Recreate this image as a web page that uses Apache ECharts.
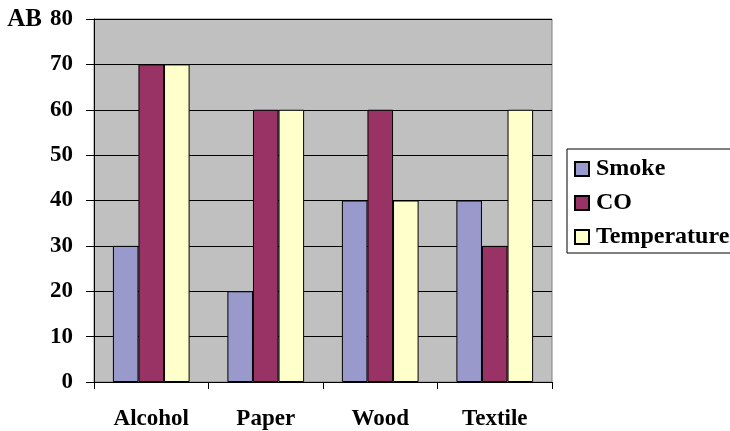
<!DOCTYPE html>
<html>
<head>
<meta charset="utf-8">
<script src="https://cdn.jsdelivr.net/npm/echarts@6/dist/echarts.min.js"></script>
<style>
  html, body { margin: 0; padding: 0; background: #fff; }
  #chart { width: 730px; height: 431px; }
</style>
</head>
<body>
<div id="chart"></div>
<script>
// Fire-signature readings per material
const categories = ['Alcohol', 'Paper', 'Wood', 'Textile'];
const smoke = [30, 20, 40, 40];
const co = [70, 60, 60, 30];
const temperature = [70, 60, 40, 60];
const yTicks = { min: 0, max: 80, interval: 10 };

const serif = '"Liberation Serif", "Times New Roman", serif';
const labelFont = { fontFamily: serif, fontWeight: 'bold', fontSize: 23, color: '#000' };

const chart = echarts.init(document.getElementById('chart'), null, { renderer: 'canvas' });

function barSeries(name, data, color) {
  return {
    name: name,
    type: 'bar',
    data: data,
    barGap: '0%',
    barCategoryGap: '33%',
    itemStyle: { color: color, borderColor: '#000', borderWidth: 1 }
  };
}

chart.setOption({
  animation: false,
  grid: {
    left: 94, right: 178, top: 19, bottom: 48,
    show: true,
    backgroundColor: '#C0C0C0',
    borderColor: '#808080',
    borderWidth: 1
  },
  legend: {
    orient: 'vertical',
    left: 567,
    top: 149,
    padding: [8, 30, 4, 7],
    itemGap: 10,
    itemWidth: 14,
    itemHeight: 14,
    icon: 'rect',
    borderColor: '#000',
    borderWidth: 1,
    backgroundColor: '#fff',
    textStyle: Object.assign({}, labelFont, { fontSize: 24, padding: [0, 0, 0, 2] }),
    data: ['Smoke', 'CO', 'Temperature']
  },
  xAxis: {
    type: 'category',
    data: categories,
    axisLine: { show: true, lineStyle: { color: '#000', width: 1 } },
    axisTick: { show: true, length: 7, alignWithLabel: false, lineStyle: { color: '#000' } },
    axisLabel: Object.assign({}, labelFont, { margin: 26 }),
    splitLine: { show: false }
  },
  yAxis: {
    type: 'value',
    min: yTicks.min,
    max: yTicks.max,
    interval: yTicks.interval,
    name: 'AB',
    nameLocation: 'end',
    nameGap: -1,
    nameTextStyle: Object.assign({}, labelFont, { fontSize: 25, align: 'right', verticalAlign: 'middle', padding: [0, 52, 0, 0] }),
    axisLine: { show: true, lineStyle: { color: '#000', width: 1 } },
    axisTick: { show: true, length: 8, lineStyle: { color: '#000' } },
    axisLabel: Object.assign({}, labelFont, { margin: 21 }),
    splitLine: { show: true, lineStyle: { color: '#000', width: 1 } }
  },
  series: [
    barSeries('Smoke', smoke, '#9999CC'),
    barSeries('CO', co, '#993366'),
    barSeries('Temperature', temperature, '#FFFFCC')
  ]
});
</script>
</body>
</html>
